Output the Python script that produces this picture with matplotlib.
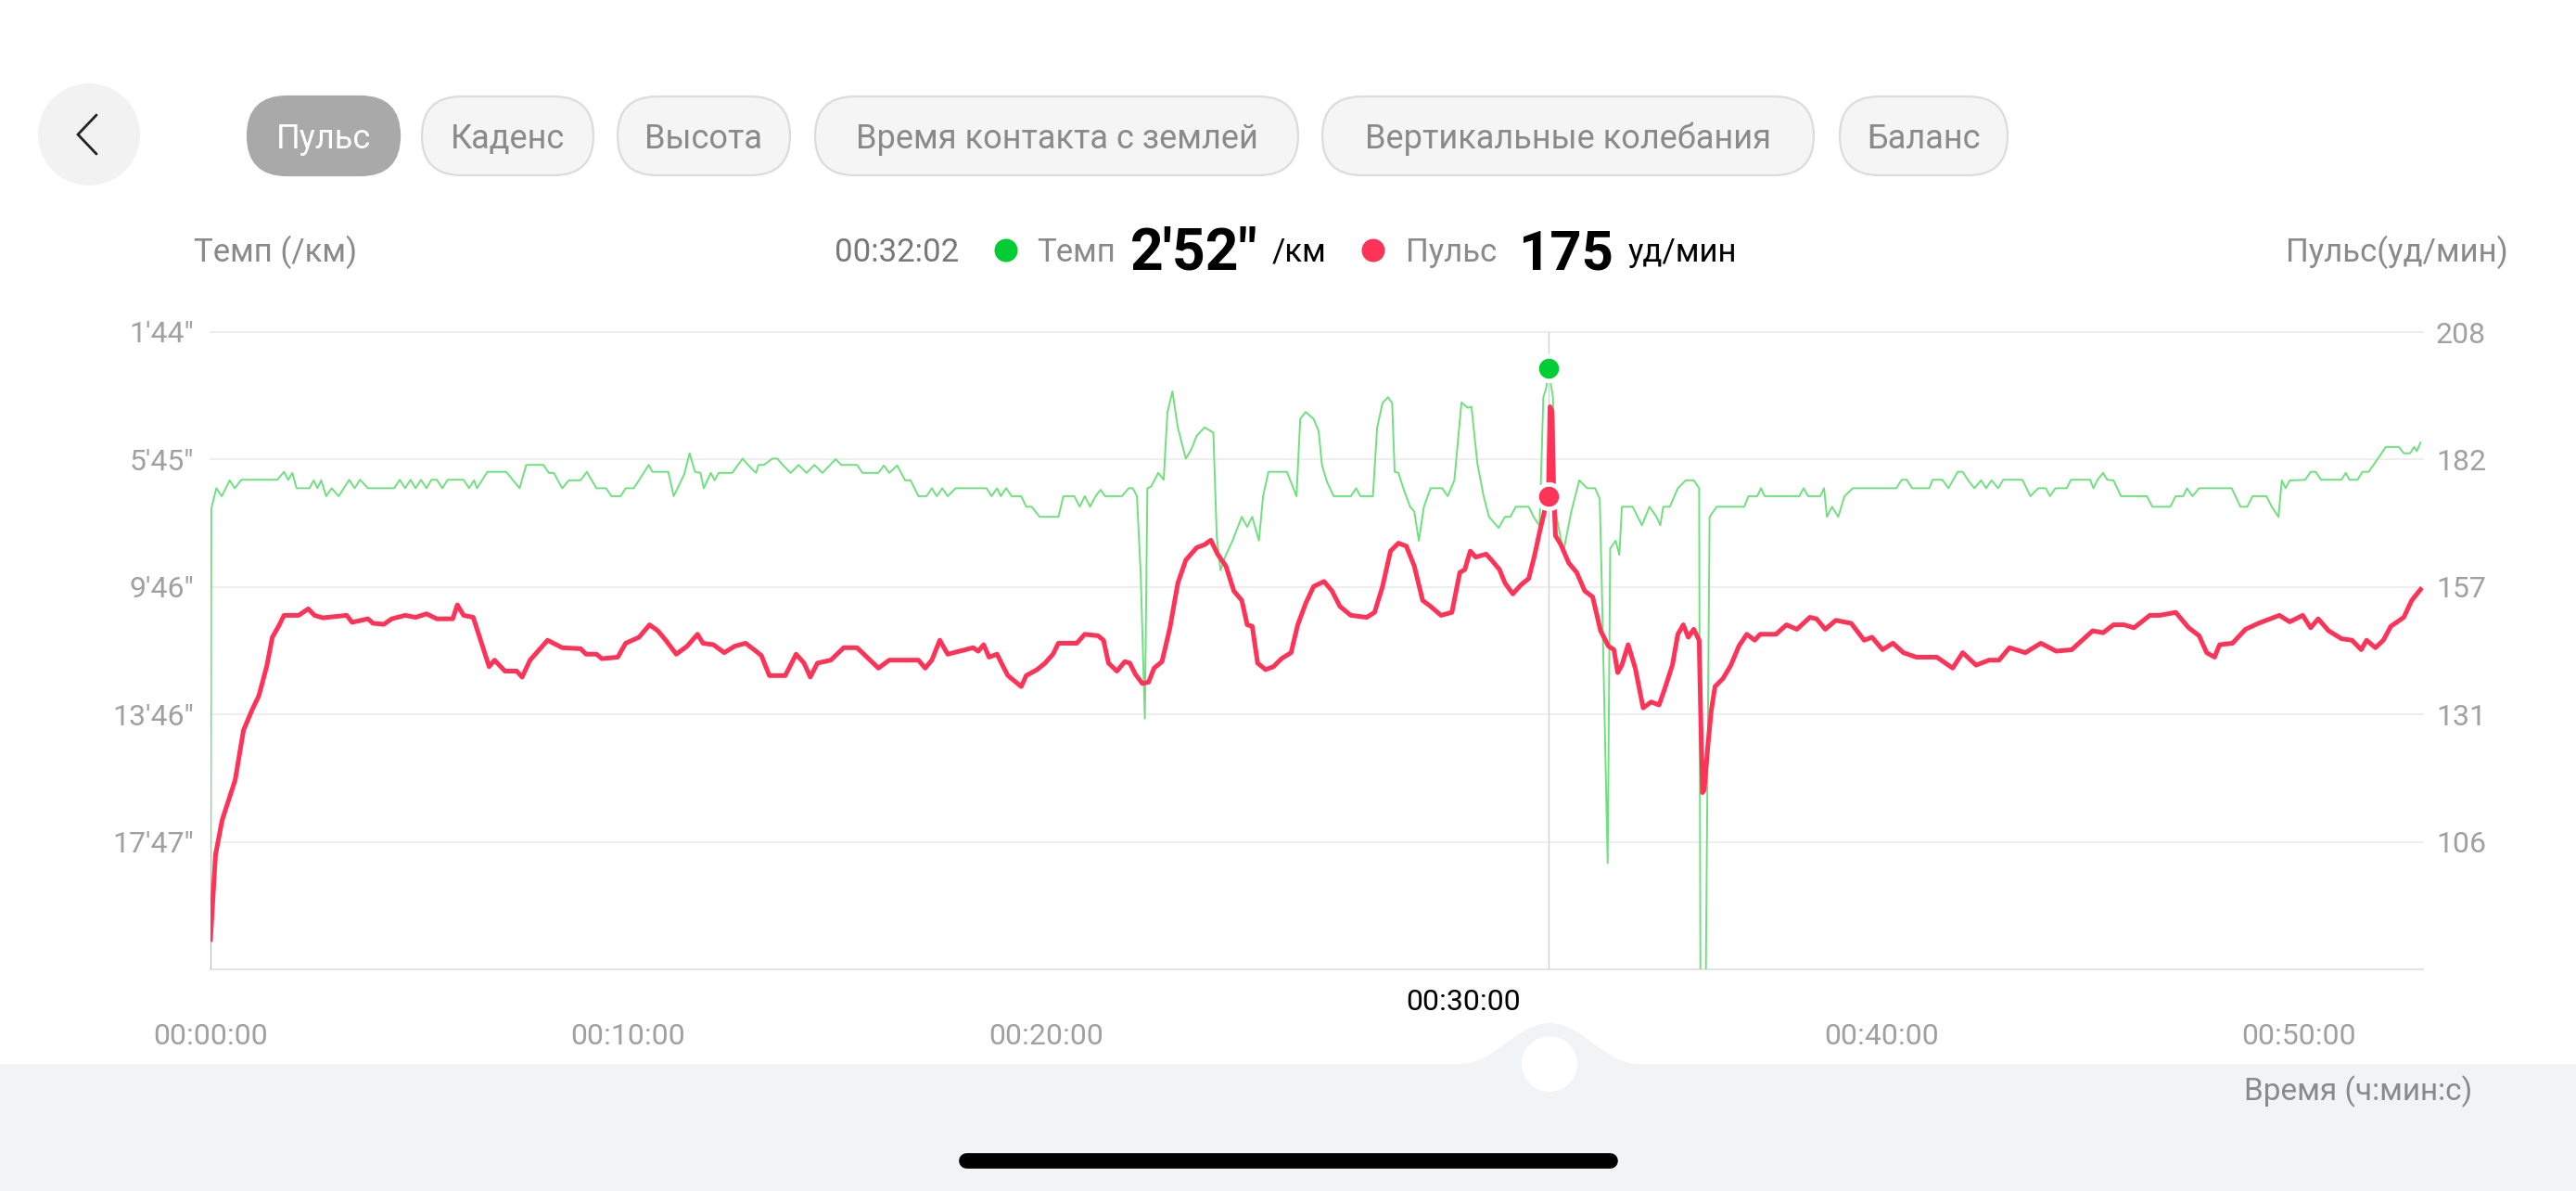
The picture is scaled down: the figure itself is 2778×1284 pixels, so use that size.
import numpy as np
import matplotlib
matplotlib.use("Agg")
import matplotlib.pyplot as plt
from matplotlib.patches import Circle, FancyBboxPatch, Polygon

W, H = 2778, 1284
plt.rcParams["font.family"] = ["Roboto", "DejaVu Sans"]

# ---- data -------------------------------------------------------------
# pace (green): minutes into run -> seconds per km
pace_min = [
    0.00, 0.02, 0.14, 0.27, 0.46, 0.58, 0.74, 1.60, 1.76, 1.86, 1.96, 2.06,
    2.37, 2.47, 2.56, 2.65, 2.77, 2.90, 3.07, 3.32, 3.45, 3.58, 3.77, 4.40,
    4.53, 4.66, 4.79, 4.91, 5.04, 5.17, 5.29, 5.42, 5.55, 5.68, 6.06, 6.19,
    6.31, 6.38, 6.63, 7.08, 7.40, 7.56, 7.97, 8.10, 8.22, 8.42, 8.58, 8.86,
    9.01, 9.24, 9.47, 9.60, 9.82, 9.94, 10.13, 10.26, 10.49, 10.58, 10.96,
    11.09, 11.34, 11.47, 11.60, 11.73, 11.81, 11.98, 12.07, 12.17, 12.49,
    12.74, 12.87, 13.06, 13.12, 13.25, 13.45, 13.57, 13.70, 13.89, 14.08,
    14.27, 14.46, 14.65, 14.97, 15.10, 15.48, 15.61, 15.99, 16.12, 16.25,
    16.44, 16.63, 16.76, 16.95, 17.14, 17.27, 17.39, 17.52, 17.65, 17.84,
    18.58, 18.70, 18.83, 18.92, 19.05, 19.18, 19.41, 19.53, 19.66, 19.85,
    20.30, 20.42, 20.68, 20.81, 20.93, 21.06, 21.19, 21.31, 21.42, 21.82,
    21.98, 22.08, 22.18, 22.27, 22.37, 22.43, 22.52, 22.69, 22.82, 22.91,
    23.03, 23.16, 23.35, 23.48, 23.61, 23.80, 24.01, 24.09, 24.18, 24.31,
    24.47, 24.69, 24.82, 24.94, 25.10, 25.20, 25.33, 25.45, 25.77, 26.00,
    26.09, 26.22, 26.41, 26.53, 26.61, 26.73, 26.89, 27.30, 27.43, 27.53,
    27.83, 27.93, 28.06, 28.19, 28.29, 28.35, 28.44, 28.57, 28.72, 28.82,
    28.93, 29.05, 29.21, 29.49, 29.62, 29.78, 29.95, 30.10, 30.19, 30.33,
    30.48, 30.61, 30.84, 30.99, 31.12, 31.25, 31.56, 31.69, 31.82, 31.91,
    31.98, 32.03, 32.14, 32.20, 32.39, 32.58, 32.77, 32.96, 33.15, 33.26,
    33.31, 33.45, 33.51, 33.64, 33.73, 33.79, 34.05, 34.17, 34.27, 34.45,
    34.62, 34.71, 34.78, 34.94, 35.13, 35.32, 35.51, 35.64, 35.67, 35.80,
    35.89, 36.06, 36.72, 36.82, 37.03, 37.12, 37.21, 38.04, 38.14, 38.25,
    38.54, 38.63, 38.70, 38.82, 38.97, 39.12, 39.32, 40.36, 40.49, 40.61,
    40.74, 41.15, 41.23, 41.46, 41.61, 41.83, 41.95, 42.08, 42.23, 42.39,
    42.51, 42.64, 42.80, 42.92, 43.38, 43.57, 43.76, 43.94, 44.04, 44.17,
    44.44, 44.54, 45.00, 45.08, 45.18, 45.31, 45.41, 45.56, 45.74, 46.36,
    46.49, 46.92, 47.05, 47.23, 47.32, 47.45, 47.61, 48.39, 48.60, 48.76,
    48.89, 49.22, 49.35, 49.51, 49.59, 49.68, 49.78, 49.90, 50.15, 50.28,
    50.40, 50.53, 51.02, 51.12, 51.21, 51.40, 51.52, 51.67, 51.89, 52.08,
    52.39, 52.51, 52.66, 52.76, 52.82, 52.91,
]
pace_sec = [
    1320, 437, 399, 414, 384, 399, 383, 383, 368, 383, 370, 399,
    399, 384, 399, 384, 414, 399, 414, 383, 399, 383, 399, 399,
    383, 399, 383, 399, 383, 399, 383, 383, 399, 383, 383, 399,
    384, 399, 368, 368, 399, 355, 355, 370, 370, 399, 384, 384,
    368, 399, 399, 414, 414, 399, 399, 384, 355, 368, 368,
    414, 373, 333, 368, 370, 399, 370, 384, 370, 370,
    343, 355, 370, 355, 355, 343, 343, 355, 370, 355,
    370, 355, 370, 344, 355, 355, 370, 370, 356, 370,
    356, 384, 384, 414, 414, 399, 414, 399, 414, 399,
    399, 414, 399, 414, 399, 414, 414, 434, 434, 453,
    453, 414, 414, 434, 414, 434, 414, 402, 414, 414,
    399, 399, 414, 560, 834, 399, 396, 370, 383, 256,
    216, 285, 343, 326, 300, 284, 294, 489, 554, 525,
    498, 453, 472, 453, 498, 414, 368, 368, 368, 414,
    268, 255, 268, 291, 355, 387, 414, 414, 399, 414,
    414, 285, 238, 227, 238, 368, 370, 402, 434, 443,
    498, 434, 399, 399, 414, 384, 237, 247, 245, 352,
    414, 453, 474, 453, 453, 434, 434, 455, 470, 227,
    209, 172, 227, 443, 519, 443, 384, 399, 399, 419,
    583, 1107, 513, 498, 525, 434, 434, 453, 469, 434,
    453, 469, 434, 434, 399, 384, 384, 399, 1320, 1320,
    453, 434, 434, 414, 414, 399, 414, 414, 399, 414,
    414, 399, 453, 434, 453, 414, 399, 399, 383, 383,
    399, 399, 383, 383, 399, 368, 368, 384, 399, 384,
    399, 384, 399, 383, 383, 414, 399, 399, 414, 399,
    399, 383, 383, 399, 383, 370, 383, 384, 414, 414,
    434, 434, 414, 414, 399, 414, 399, 399, 434, 434,
    414, 414, 434, 453, 384, 399, 384, 384, 383, 368,
    368, 383, 383, 370, 383, 383, 368, 368, 343, 321,
    321, 333, 333, 321, 329, 313,
]

# heart rate (red): minutes into run -> bpm
hr_min = [
    0.00, 0.12, 0.28, 0.59, 0.79, 0.99, 1.16, 1.35, 1.48, 1.63, 1.76, 2.11,
    2.34, 2.49, 2.69, 3.26, 3.39, 3.77, 3.89, 4.15, 4.34, 4.66, 4.91, 5.17,
    5.42, 5.80, 5.91, 6.06, 6.29, 6.42, 6.54, 6.67, 6.80, 7.05, 7.33, 7.46,
    7.65, 8.07, 8.42, 8.86, 8.99, 9.24, 9.37, 9.75, 9.94, 10.26, 10.51,
    10.71, 10.90, 11.15, 11.41, 11.66, 11.79, 12.04, 12.30, 12.55, 12.81,
    13.06, 13.19, 13.38, 13.76, 14.02, 14.21, 14.36, 14.53, 14.85, 15.16,
    15.48, 15.99, 16.25, 16.95, 17.11, 17.27, 17.46, 17.65, 18.26, 18.38,
    18.51, 18.64, 18.83, 18.96, 19.09, 19.41, 19.53, 19.79, 19.98, 20.17,
    20.30, 20.74, 20.93, 21.25, 21.38, 21.50, 21.70, 21.89, 22.01, 22.14,
    22.31, 22.46, 22.59, 22.78, 22.97, 23.16, 23.35, 23.61, 23.80, 23.95,
    24.11, 24.31, 24.50, 24.69, 24.82, 24.94, 25.07, 25.26, 25.45, 25.64,
    25.87, 26.03, 26.22, 26.41, 26.66, 26.85, 27.04, 27.30, 27.68, 27.87,
    28.06, 28.25, 28.44, 28.63, 28.82, 29.02, 29.21, 29.46, 29.72, 29.91,
    30.03, 30.16, 30.29, 30.54, 30.67, 30.86, 30.99, 31.18, 31.37, 31.56,
    31.69, 31.82, 31.94, 32.03, 32.07, 32.12, 32.15, 32.20, 32.33, 32.52,
    32.71, 32.90, 33.09, 33.28, 33.47, 33.60, 33.69, 33.79, 33.94, 34.11,
    34.30, 34.49, 34.68, 34.81, 35.00, 35.13, 35.26, 35.38, 35.51, 35.64,
    35.68, 35.72, 35.76, 35.85, 35.93, 36.02, 36.21, 36.40, 36.59, 36.78,
    36.97, 37.10, 37.48, 37.73, 37.98, 38.29, 38.45, 38.66, 38.91, 39.28,
    39.59, 39.78, 40.03, 40.28, 40.53, 40.84, 41.33, 41.71, 41.95, 42.27,
    42.58, 42.82, 43.07, 43.45, 43.82, 44.19, 44.56, 45.06, 45.31, 45.56,
    45.81, 46.05, 46.43, 46.67, 47.05, 47.36, 47.61, 47.79, 47.98, 48.10,
    48.41, 48.72, 49.03, 49.22, 49.53, 49.78, 50.09, 50.28, 50.46, 50.71,
    51.02, 51.27, 51.49, 51.62, 51.83, 52.02, 52.20, 52.51, 52.70, 52.91,
]
hr_bpm = [
    86, 103, 110, 118, 128, 132, 135, 141, 146.7, 148.9, 151.1, 151.1,
    152.4, 151.1, 150.6, 151.1, 149.7, 150.4, 149.5, 149.3, 150.4, 151.1, 150.7, 151.4,
    150.4, 150.4, 153.2, 151.1, 150.7, 147.3, 144.2, 140.8, 142.1, 139.9, 139.9, 138.7,
    142.1, 146.1, 144.6, 144.4, 143.3, 143.3, 142.4, 142.7, 145.5, 146.7, 149.2,
    148.0, 146.1, 143.3, 144.9, 147.3, 145.5, 145.2, 143.6, 144.9, 145.5,
    143.9, 143.0, 139.0, 139.0, 143.3, 141.5, 138.7, 141.5, 142.1, 144.6,
    144.6, 140.5, 142.1, 142.1, 140.5, 142.1, 146.1, 143.3, 144.6, 143.9,
    145.2, 142.7, 143.3, 141.1, 139.0, 136.8, 139.0, 140.2, 141.5, 143.3,
    145.5, 145.5, 147.3, 147.0, 146.1, 141.5, 139.9, 141.8, 141.5, 139.3,
    137.4, 137.7, 140.5, 141.8, 148.6, 157.6, 162.2, 164.7, 165.3, 166.2,
    163.4, 161.0, 156.0, 154.1, 149.2, 148.9, 141.5, 140.2, 140.8, 142.4,
    143.6, 149.2, 153.5, 156.9, 157.9, 156.0, 152.9, 151.1, 150.7, 151.7,
    156.9, 164.0, 165.6, 165.0, 161.0, 154.1, 152.9, 151.1, 151.7, 159.7,
    160.3, 164.0, 162.8, 163.4, 162.2, 160.3, 157.6, 155.4, 157.2, 158.5,
    162.8, 167.8, 172.1, 175.0, 193.0, 192.0, 178.0, 167.1, 165.3, 161.6,
    159.7, 156.0, 154.8, 148.0, 144.9, 144.2, 139.6, 141.1, 145.2, 140.5,
    132.5, 133.7, 133.1, 136.2, 141.1, 147.3, 149.2, 146.7, 148.3, 146.1,
    130.0, 115.5, 116.0, 125.0, 132.0, 136.8, 138.4, 141.1, 144.9, 147.3,
    146.1, 147.3, 147.3, 149.2, 148.3, 150.7, 150.4, 148.3, 150.1, 149.5,
    146.1, 146.7, 144.2, 145.5, 143.6, 142.7, 142.7, 140.5, 143.6, 141.1,
    142.1, 142.1, 144.6, 143.6, 145.5, 143.9, 144.2, 148.0, 147.6, 149.2,
    149.2, 148.6, 151.1, 151.1, 151.7, 148.6, 147.0, 143.6, 142.7, 145.2,
    145.5, 148.3, 149.5, 150.1, 151.1, 149.8, 151.1, 148.6, 150.4, 148.0,
    146.4, 146.1, 144.2, 146.1, 144.6, 146.1, 148.9, 150.7, 154.1, 156.3,
]

cursor_min = 32 + 2 / 60
cursor_pace = 172   # 2'52"
cursor_hr = 175

x_ticks_min = [0, 10, 20, 30, 40, 50]
tab_names = ["Пульс", "Каденс", "Высота", "Время контакта с землей",
             "Вертикальные колебания", "Баланс"]

# axis ranges as the app draws them
T_MAX = 52.97
PACE_TOP, PACE_STEP = 104, 240.75
HR_TOP, HR_STEP = 208, 25.6
N_STEPS = 5

GREEN_LINE = "#6fe07e"
GREEN_DOT = "#00cc33"
RED = "#ff3358"
GRID = "#ebebeb"
TICK_GREY = "#a0a0a0"
LABEL_GREY = "#8a8a8a"


def fx(x):
    return x / W


def fy(y):
    return 1 - y / H


def pace_label(sec):
    s = int(round(sec))
    return f"{s // 60}'{s % 60:02d}\""


fig = plt.figure(figsize=(W / 100, H / 100), dpi=100)
fig.patch.set_facecolor("white")

# background layer in pixel coordinates
bg = fig.add_axes([0, 0, 1, 1])
bg.set_xlim(0, W)
bg.set_ylim(H, 0)
bg.axis("off")

# back button
bg.add_patch(Circle((96, 145), 55, color="#f2f2f2", lw=0))
bg.plot([104, 84, 104], [124, 145, 166], color="#222222", lw=2.0,
        solid_capstyle="round", solid_joinstyle="miter")

# tabs
tab_box = [(267, 431), (455, 640), (666, 852), (879, 1400), (1426, 1956), (1984, 2165)]
for i, (name, (x0, x1)) in enumerate(zip(tab_names, tab_box)):
    active = i == 0
    y0, y1 = 104, 189
    r = (y1 - y0) / 2
    bg.add_patch(FancyBboxPatch(
        (x0, y0), (x1 - x0), y1 - y0,
        boxstyle=f"round,pad=0,rounding_size={r}",
        facecolor="#a9a9a9" if active else "#f5f5f5",
        edgecolor="#a9a9a9" if active else "#dcdcdc", lw=1.6))
    fig.text(fx((x0 + x1) / 2), fy(160), name, ha="center", va="baseline",
             fontsize=26, color="white" if active else LABEL_GREY)

# bottom scrubber band with a bump for the handle
bx = np.linspace(0, W, 800)
d = np.clip(np.abs(bx - 1671) / 95, 0, 1)
top = 1147 - 44 * 0.5 * (1 + np.cos(np.pi * d))
band = np.column_stack([np.r_[bx, W, 0], np.r_[top, H, H]])
bg.add_patch(Polygon(band, closed=True, color="#f2f3f5", lw=0))
bg.add_patch(Circle((1671, 1147), 30, color="white", lw=0))
bg.plot([1042, 1736], [1251, 1251], color="black", lw=12, solid_capstyle="round")

# header row
fig.text(fx(209), fy(282), "Темп (/км)", ha="left", va="baseline",
         fontsize=25, color=LABEL_GREY)
fig.text(fx(2705), fy(282), "Пульс(уд/мин)", ha="right", va="baseline",
         fontsize=25, color=LABEL_GREY)
fig.text(fx(900), fy(282), "00:32:02", ha="left", va="baseline",
         fontsize=25, color="#777777")
bg.add_patch(Circle((1085, 270), 12.5, color=GREEN_DOT, lw=0))
fig.text(fx(1118), fy(282), "Темп", ha="left", va="baseline",
         fontsize=25, color=LABEL_GREY)
fig.text(fx(1219), fy(291), pace_label(cursor_pace), ha="left", va="baseline",
         fontsize=45, fontweight="bold", color="black")
fig.text(fx(1372), fy(282), "/км", ha="left", va="baseline",
         fontsize=25, color="black")
bg.add_patch(Circle((1481, 270), 12.5, color=RED, lw=0))
fig.text(fx(1516), fy(282), "Пульс", ha="left", va="baseline",
         fontsize=25, color=LABEL_GREY)
fig.text(fx(1637), fy(291), f"{cursor_hr}", ha="left", va="baseline",
         fontsize=43, fontweight="bold", color="black")
fig.text(fx(1756), fy(282), "уд/мин", ha="left", va="baseline",
         fontsize=25, color="black")
fig.text(fx(2666), fy(1186), "Время (ч:мин:с)", ha="right", va="baseline",
         fontsize=24, color=LABEL_GREY)

# ---- chart ----------------------------------------------------------
left, right, top_px, bot_px = 227, 2613, 358, 1045
ax = fig.add_axes([fx(left), fy(bot_px), fx(right - left), (bot_px - top_px) / H])
ax.set_facecolor("none")
ax2 = ax.twinx()

pace_ticks = [PACE_TOP + PACE_STEP * k for k in range(N_STEPS)]
hr_ticks = [HR_TOP - HR_STEP * k for k in range(N_STEPS)]
pace_bottom = PACE_TOP + PACE_STEP * N_STEPS
hr_bottom = HR_TOP - HR_STEP * N_STEPS

for v in pace_ticks:
    ax.axhline(v, color=GRID, lw=1.2, zorder=0, clip_on=False)
ax.axhline(pace_bottom, color="#e4e4e4", lw=1.5, zorder=0, clip_on=False)

ax.axvline(cursor_min, color="#d2d2d2", lw=1.0, zorder=1)
ax.plot(pace_min, pace_sec, color=GREEN_LINE, lw=1.4, zorder=2)
ax2.plot(hr_min, hr_bpm, color=RED, lw=3.6, zorder=3,
         solid_joinstyle="round")

ax2.plot([cursor_min], [cursor_hr], "o", ms=19, color=RED,
         markeredgecolor="white", markeredgewidth=3.5, zorder=5, clip_on=False)
ax2.plot([cursor_min], [cursor_pace], "o", ms=19, color=GREEN_DOT,
         markeredgecolor="white", markeredgewidth=3.5, zorder=5, clip_on=False,
         transform=ax.transData)

ax.set_xlim(0, T_MAX)
ax.set_ylim(pace_bottom, PACE_TOP)
ax2.set_ylim(hr_bottom, HR_TOP)

ax.set_yticks(pace_ticks)
ax.set_yticklabels([pace_label(v) for v in pace_ticks])
ax2.set_yticks(hr_ticks)
ax2.set_yticklabels([f"{v:.0f}" for v in hr_ticks])

grey_ticks = [m for m in x_ticks_min if m != 30]
ax.set_xticks(grey_ticks)
ax.set_xticklabels([f"00:{m:02d}:00" for m in grey_ticks])
ax.text(30, -0.052, "00:30:00", transform=ax.get_xaxis_transform(),
        ha="center", va="center", fontsize=23, color="black")

ax.tick_params(axis="y", length=0, pad=13, labelsize=23, labelcolor=TICK_GREY)
ax2.tick_params(axis="y", length=0, pad=10, labelsize=23, labelcolor=TICK_GREY)
ax.tick_params(axis="x", length=0, pad=42, labelsize=23, labelcolor=TICK_GREY)

for a in (ax, ax2):
    for s in a.spines.values():
        s.set_visible(False)

fig.savefig("out.png", dpi=100, facecolor="white")
